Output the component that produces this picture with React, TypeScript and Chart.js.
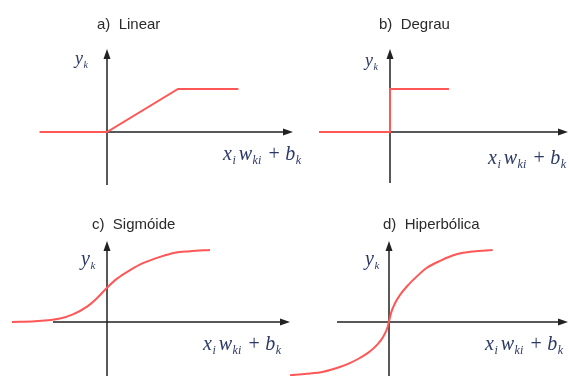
import { useEffect, useRef } from "react";
import { Chart, registerables } from "chart.js";
Chart.register(...registerables);

// ---- data ----
const panelTitles = ["a)  Linear", "b)  Degrau", "c)  Sigmóide", "d)  Hiperbólica"];

const linearX = [-0.95, 0, 1, 1.85];
const linearY = [0, 0, 1, 1];

const stepX = [-1, 0, 0, 0.83];
const stepY = [0, 0, 1, 1];

const sigmoidX = [-3.96, -3.0, -1.96, -1.42, -0.83, -0.42, 0, 0.42, 0.96, 1.5, 2.21, 2.83, 3.46, 4.29];
const sigmoidY = [0.0, 0.01, 0.05, 0.11, 0.22, 0.34, 0.49, 0.62, 0.74, 0.84, 0.93, 0.99, 1.01, 1.03];

const tanhX = [-2.48, -2.06, -1.64, -1.23, -0.98, -0.73, -0.48, -0.27, -0.14, -0.04, 0.01, 0.06, 0.15, 0.28, 0.44, 0.69, 0.94, 1.28, 1.69, 2.11, 2.59];
const tanhY = [-0.74, -0.72, -0.69, -0.625, -0.57, -0.5, -0.41, -0.3, -0.2, -0.08, 0.03, 0.14, 0.26, 0.38, 0.49, 0.63, 0.75, 0.85, 0.94, 0.98, 1.0];

const yAxisLabel = { base: "y", sub: "k" };
const xAxisLabel = [
  { base: "x", sub: "i" },
  { base: "w", sub: "ki" },
  { base: "+", sub: "" },
  { base: "b", sub: "k" },
];

const seriesX = [linearX, stepX, sigmoidX, tanhX];
const seriesY = [linearY, stepY, sigmoidY, tanhY];
const smooth = [false, false, true, true];

// ---- layout (window pixel coordinates) ----
type Layout = {
  left: number; top: number; w: number; h: number;
  ox: number; oy: number; ux: number; uy: number;
  yTop: number; yBottom: number; xLeft: number; xRight: number;
  title: [number, number]; yl: [number, number, number]; xl: [number, number];
};

const layouts: Layout[] = [
  { left: 0, top: 0, w: 310, h: 190, ox: 107, oy: 132, ux: 71, uy: 43,
    yTop: 49, yBottom: 185, xLeft: 107, xRight: 293,
    title: [97, 25], yl: [75, 64, 18], xl: [223, 160] },
  { left: 290, top: 0, w: 279, h: 190, ox: 390, oy: 132, ux: 71, uy: 43,
    yTop: 49, yBottom: 183, xLeft: 390, xRight: 568,
    title: [379, 25], yl: [365, 66, 18], xl: [488, 164] },
  { left: 0, top: 190, w: 310, h: 186, ox: 107, oy: 322, ux: 24, uy: 70,
    yTop: 241, yBottom: 376, xLeft: 53, xRight: 290,
    title: [92, 225], yl: [81, 265, 20], xl: [203, 350] },
  { left: 290, top: 190, w: 279, h: 186, ox: 389, oy: 322, ux: 40, uy: 72,
    yTop: 241, yBottom: 376, xLeft: 337, xRight: 568,
    title: [383, 225], yl: [365, 265, 20], xl: [485, 350] },
];

const RED = "#ff5656";
const AXIS = "#222222";
const MATH = "#2b3866";
const TITLE = "#2a2a2a";

function drawMath(ctx: CanvasRenderingContext2D, x: number, y: number, parts: { base: string; sub: string }[], size: number, subScale: number, gap: number) {
  let cx = x;
  parts.forEach((p, i) => {
    const isOp = p.base === "+";
    if (isOp) cx += gap * 1.2;
    ctx.font = `${isOp ? "" : "italic "}${size}px "Liberation Serif", "DejaVu Serif", serif`;
    ctx.fillText(p.base, cx, y);
    cx += ctx.measureText(p.base).width;
    if (isOp) cx += gap * 1.6;
    if (p.sub) {
      ctx.font = `italic ${Math.round(size * subScale)}px "Liberation Serif", "DejaVu Serif", serif`;
      ctx.fillText(p.sub, cx + 0.5, y + size * 0.2);
      cx += ctx.measureText(p.sub).width + (i < parts.length - 1 ? gap : 0);
    }
  });
}

function Panel({ idx }: { idx: number }) {
  const ref = useRef<HTMLCanvasElement>(null);
  const L = layouts[idx];
  useEffect(() => {
    if (!ref.current) return;
    const data = seriesX[idx].map((x, i) => ({ x, y: seriesY[idx][i] }));
    const deco = {
      id: "deco" + idx,
      beforeDatasetsDraw(chart: Chart) {
        const ctx = chart.ctx;
        const xs = chart.scales.x;
        const ys = chart.scales.y;
        const x0 = xs.getPixelForValue(0);
        const y0 = ys.getPixelForValue(0);
        ctx.save();
        ctx.strokeStyle = AXIS;
        ctx.fillStyle = AXIS;
        ctx.lineWidth = 1.5;
        const yTop = L.yTop - L.top, yBot = L.yBottom - L.top;
        const xL = L.xLeft - L.left, xR = L.xRight - L.left;
        ctx.beginPath();
        ctx.moveTo(x0, yBot);
        ctx.lineTo(x0, yTop + 8);
        ctx.moveTo(xL, y0);
        ctx.lineTo(xR - 8, y0);
        ctx.stroke();
        ctx.beginPath();
        ctx.moveTo(x0, yTop);
        ctx.lineTo(x0 - 3.5, yTop + 10);
        ctx.lineTo(x0 + 3.5, yTop + 10);
        ctx.closePath();
        ctx.fill();
        ctx.beginPath();
        ctx.moveTo(xR, y0);
        ctx.lineTo(xR - 10, y0 - 3.5);
        ctx.lineTo(xR - 10, y0 + 3.5);
        ctx.closePath();
        ctx.fill();
        ctx.restore();
      },
      afterDraw(chart: Chart) {
        const ctx = chart.ctx;
        ctx.save();
        ctx.fillStyle = TITLE;
        ctx.font = `15px "Liberation Sans", Arial, sans-serif`;
        ctx.textBaseline = "middle";
        ctx.textAlign = "left";
        ctx.fillText(panelTitles[idx], L.title[0] - L.left, L.title[1] - L.top);
        ctx.textBaseline = "alphabetic";
        ctx.fillStyle = MATH;
        drawMath(ctx, L.yl[0] - L.left, L.yl[1] - L.top, [yAxisLabel], L.yl[2], 0.55, 0);
        drawMath(ctx, L.xl[0] - L.left, L.xl[1] - L.top, xAxisLabel, 20, 0.6, 3.5);
        ctx.restore();
      },
    };
    const chart = new Chart(ref.current, {
      type: "scatter",
      data: {
        datasets: [{
          data,
          showLine: true,
          borderColor: RED,
          borderWidth: 2,
          pointRadius: 0,
          tension: smooth[idx] ? 0.4 : 0,
          cubicInterpolationMode: smooth[idx] ? "monotone" : "default",
          clip: false,
        } as any],
      },
      options: {
        animation: false,
        responsive: false,
        maintainAspectRatio: false,
        layout: { padding: 0 },
        plugins: { legend: { display: false }, title: { display: false }, tooltip: { enabled: false } },
        events: [],
        scales: {
          x: { type: "linear", display: false, min: (L.left - L.ox) / L.ux, max: (L.left + L.w - L.ox) / L.ux },
          y: { type: "linear", display: false, min: (L.oy - (L.top + L.h)) / L.uy, max: (L.oy - L.top) / L.uy },
        },
      },
      plugins: [deco],
    });
    return () => chart.destroy();
  }, [idx]);
  return (
    <canvas
      ref={ref}
      width={L.w}
      height={L.h}
      style={{ position: "absolute", left: L.left, top: L.top, width: L.w, height: L.h }}
    />
  );
}

export default function App() {
  return (
    <div style={{ position: "fixed", left: 0, top: 0, width: 569, height: 376, background: "#fff", overflow: "hidden" }}>
      {[0, 1, 2, 3].map((i) => (
        <Panel key={i} idx={i} />
      ))}
    </div>
  );
}
